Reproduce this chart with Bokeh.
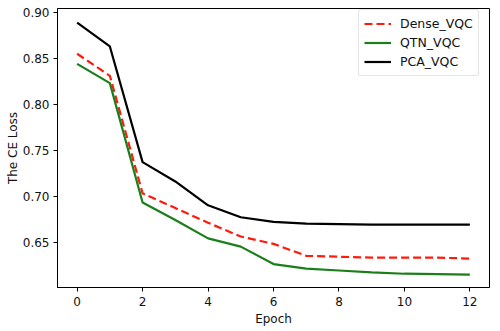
from bokeh.plotting import figure
from bokeh.models import FixedTicker, Legend, LegendItem, NumeralTickFormatter, Range1d
from bokeh.embed import file_html
from bokeh.resources import INLINE

epochs = list(range(13))
dense_vqc = [0.855, 0.831, 0.703, 0.687, 0.671, 0.656, 0.648, 0.635, 0.634, 0.633, 0.633, 0.633, 0.632]
qtn_vqc = [0.844, 0.823, 0.693, 0.674, 0.654, 0.645, 0.626, 0.621, 0.619, 0.617, 0.6155, 0.615, 0.6145]
pca_vqc = [0.889, 0.863, 0.737, 0.716, 0.690, 0.677, 0.672, 0.670, 0.6695, 0.669, 0.669, 0.669, 0.669]
x_ticks = [0, 2, 4, 6, 8, 10, 12]
y_ticks = [0.65, 0.70, 0.75, 0.80, 0.85, 0.90]

FONT = "DejaVu Sans"

p = figure(width=500, height=331, output_backend="svg", toolbar_location=None,
           x_range=Range1d(-0.6, 12.6), y_range=Range1d(0.6005, 0.9043),
           min_border_left=57, min_border_right=11, min_border_top=8, min_border_bottom=44)
p.background_fill_color = "white"
p.border_fill_color = "white"
p.outline_line_color = "black"
p.outline_line_width = 1
p.grid.visible = False

r1 = p.line(epochs, dense_vqc, line_color="#ff1a0a", line_width=2.2, line_dash="8 4")
r2 = p.line(epochs, qtn_vqc, line_color="#1a7f1a", line_width=2.2)
r3 = p.line(epochs, pca_vqc, line_color="black", line_width=2.2)

for ax in (p.xaxis[0], p.yaxis[0]):
    ax.major_label_text_font = FONT
    ax.major_label_text_font_size = "12px"
    ax.major_label_text_color = "#111111"
    ax.axis_label_text_font = FONT
    ax.axis_label_text_font_size = "12px"
    ax.axis_label_text_font_style = "normal"
    ax.axis_label_text_color = "#111111"
    ax.major_tick_out = 4
    ax.major_tick_in = 0
    ax.minor_tick_out = 0
    ax.minor_tick_in = 0
    ax.axis_line_color = "black"
    ax.major_tick_line_color = "black"

p.xaxis.ticker = FixedTicker(ticks=x_ticks)
p.yaxis.ticker = FixedTicker(ticks=y_ticks)
p.yaxis.formatter = NumeralTickFormatter(format="0.00")
p.xaxis.axis_label = "Epoch"
p.yaxis.axis_label = "The CE Loss"
p.xaxis.major_label_standoff = 5
p.yaxis.major_label_standoff = 4
p.xaxis.axis_label_standoff = 3
p.yaxis.axis_label_standoff = 0

legend = Legend(items=[LegendItem(label="Dense_VQC", renderers=[r1]),
                       LegendItem(label="QTN_VQC", renderers=[r2]),
                       LegendItem(label="PCA_VQC", renderers=[r3])],
                location=(301, 211))
legend.label_text_font = FONT
legend.label_text_font_size = "12.5px"
legend.label_text_color = "#111111"
legend.glyph_width = 27
legend.glyph_height = 17
legend.label_height = 17
legend.label_standoff = 9
legend.spacing = 2
legend.padding = 5
legend.margin = 0
legend.border_line_color = "#cccccc"
legend.border_line_width = 1
legend.border_radius = 3
legend.background_fill_alpha = 0.8
p.add_layout(legend)

open("out.html", "w").write(file_html(p, INLINE))
